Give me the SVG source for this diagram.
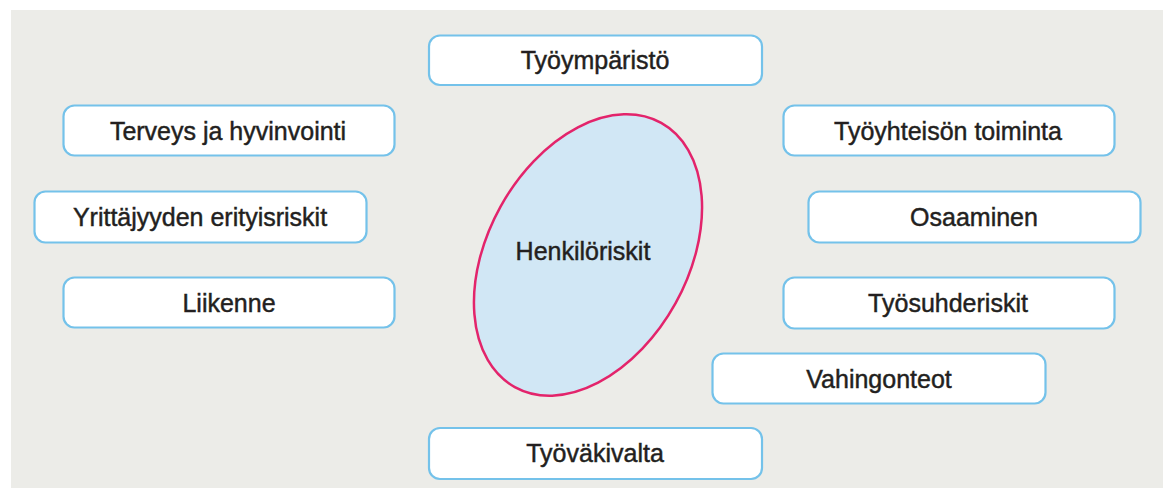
<svg xmlns="http://www.w3.org/2000/svg" width="1173" height="488" viewBox="0 0 1173 488">
  <style>
    .box rect { fill: #ffffff; stroke: #74c2ea; stroke-width: 2.2; }
    .lbl { font-family: "Liberation Sans", "Noto Sans", sans-serif; font-size: 25px; fill: #231f20; stroke: #231f20; stroke-width: 0.45; text-anchor: middle; }
  </style>
  <rect x="0" y="0" width="1173" height="488" fill="#ffffff"/>
  <rect x="11" y="10" width="1152" height="478" fill="#ececE8"/>

  <g id="center">
    <ellipse cx="588" cy="255" rx="100" ry="151" transform="rotate(29 588 255)" fill="#d1e7f5" stroke="#e3246b" stroke-width="2.5"/>
    <text class="lbl" x="583" y="260" font-size="26">Henkilöriskit</text>
  </g>

  <g id="n-tyoymparisto" class="box">
    <rect x="429" y="35.5" width="333" height="49.5" rx="11"/>
    <text class="lbl" x="595" y="69">Työympäristö</text>
  </g>
  <g id="n-terveys" class="box">
    <rect x="63.5" y="105.5" width="331" height="50" rx="11"/>
    <text class="lbl" x="228" y="140">Terveys ja hyvinvointi</text>
  </g>
  <g id="n-yrittajyys" class="box">
    <rect x="34.5" y="191.5" width="332" height="51" rx="11"/>
    <text class="lbl" x="200" y="226">Yrittäjyyden erityisriskit</text>
  </g>
  <g id="n-liikenne" class="box">
    <rect x="63.5" y="277.5" width="331" height="50" rx="11"/>
    <text class="lbl" x="229" y="312">Liikenne</text>
  </g>
  <g id="n-tyoyhteiso" class="box">
    <rect x="783.5" y="105.5" width="331" height="50" rx="11"/>
    <text class="lbl" x="948" y="140">Työyhteisön toiminta</text>
  </g>
  <g id="n-osaaminen" class="box">
    <rect x="808.5" y="191.5" width="332" height="51" rx="11"/>
    <text class="lbl" x="974" y="226">Osaaminen</text>
  </g>
  <g id="n-tyosuhde" class="box">
    <rect x="783.5" y="277.5" width="331" height="51" rx="11"/>
    <text class="lbl" x="948" y="312">Työsuhderiskit</text>
  </g>
  <g id="n-vahingonteot" class="box">
    <rect x="712.5" y="353.5" width="333" height="50" rx="11"/>
    <text class="lbl" x="879" y="388">Vahingonteot</text>
  </g>
  <g id="n-tyovakivalta" class="box">
    <rect x="429" y="428" width="333" height="51" rx="11"/>
    <text class="lbl" x="595" y="462">Työväkivalta</text>
  </g>

  <g id="connectors"></g>
</svg>
